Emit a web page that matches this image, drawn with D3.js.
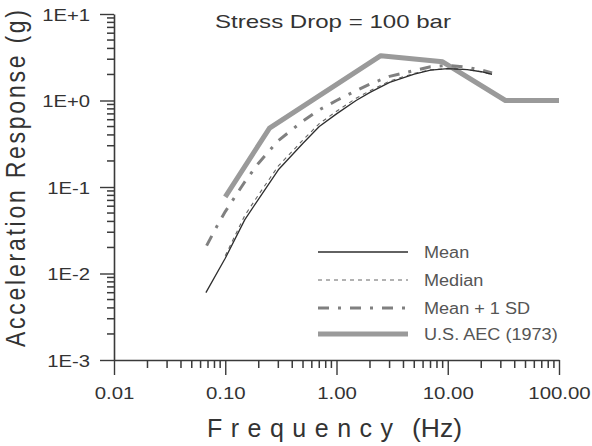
<!DOCTYPE html>
<html><head><meta charset="utf-8">
<script src="https://cdn.jsdelivr.net/npm/d3@7"></script>
<style>body{margin:0;background:#fff}svg{display:block}</style>
</head><body>
<svg id="c" width="592" height="446"></svg>
<script>
const xTickValues = [0.01, 0.1, 1, 10, 100];
const xTickLabels = ["0.01", "0.10", "1.00", "10.00", "100.00"];
const yTickValues = [1e-3, 1e-2, 1e-1, 1, 10];
const yTickLabels = ["1E-3", "1E-2", "1E-1", "1E+0", "1E+1"];
const yMinorValues = [0.002,0.003,0.004,0.005,0.006,0.007,0.008,0.009,0.02,0.03,0.04,0.05,0.06,0.07,0.08,0.09,0.2,0.3,0.4,0.5,0.6,0.7,0.8,0.9,2,3,4,5,6,7,8,9];
const xMinorValues = [0.02,0.03,0.04,0.05,0.06,0.07,0.08,0.09,0.2,0.3,0.4,0.5,0.6,0.7,0.8,0.9,2,3,4,5,6,7,8,9,20,30,40,50,60,70,80,90];

const meanFreq = [0.067, 0.1, 0.15, 0.2, 0.3, 0.5, 0.7, 1, 1.5, 2, 3, 5, 7, 10, 15, 20, 25];
const meanVals = [0.006, 0.015, 0.042, 0.073, 0.158, 0.32, 0.50, 0.70, 1.0, 1.24, 1.62, 2.02, 2.24, 2.34, 2.28, 2.15, 2.0];
const medianFreq = [0.1, 0.15, 0.2, 0.3, 0.5, 0.7, 1, 1.5, 2, 3, 5, 7, 10, 15, 20, 25];
const medianVals = [0.016, 0.047, 0.082, 0.175, 0.35, 0.54, 0.75, 1.06, 1.3, 1.68, 2.06, 2.26, 2.34, 2.28, 2.15, 2.0];
const sdFreq = [0.068, 0.085, 0.1, 0.15, 0.2, 0.3, 0.5, 0.7, 1, 1.5, 2, 3, 5, 7, 10, 15, 20, 25];
const sdVals = [0.021, 0.036, 0.052, 0.115, 0.19, 0.344, 0.58, 0.78, 1.0, 1.3, 1.55, 1.9, 2.22, 2.45, 2.55, 2.42, 2.25, 2.08];
const aecFreq = [0.1, 0.25, 2.5, 9, 33, 100];
const aecVals = [0.077, 0.48, 3.3, 2.8, 1.0, 1.0];

const seriesNames = ["Mean", "Median", "Mean + 1 SD", "U.S. AEC (1973)"];

const svg = d3.select("#c");
const font = "'Liberation Sans', Arial, sans-serif";
const axisColor = "#3a3a3a";

const x = d3.scaleLog().domain([0.01, 100]).range([114, 559]);
const y = d3.scaleLog().domain([1e-3, 10]).range([360, 14]);

function stretch(sel, k) {
  sel.each(function () {
    const w = this.getComputedTextLength();
    d3.select(this).attr("textLength", w * k).attr("lengthAdjust", "spacingAndGlyphs");
  });
}

// minor ticks as small filled rectangles
const x0 = x(0.01), y0 = y(1e-3);
svg.append("g").attr("class", "minor-y").selectAll("rect").data(yMinorValues).enter().append("rect")
  .attr("x", x0 - 7).attr("width", 7).attr("y", v => y(v) - 0.75).attr("height", 1.5)
  .attr("fill", axisColor);
svg.append("g").attr("class", "minor-x").selectAll("rect").data(xMinorValues).enter().append("rect")
  .attr("x", v => x(v) - 0.75).attr("width", 1.5).attr("y", y0).attr("height", 8)
  .attr("fill", axisColor);

const yAxis = d3.axisLeft(y).tickValues(yTickValues)
  .tickSizeInner(14).tickSizeOuter(0).tickPadding(10)
  .tickFormat((v, i) => yTickLabels[i]);
const xAxis = d3.axisBottom(x).tickValues(xTickValues)
  .tickSizeInner(15).tickSizeOuter(0).tickPadding(9)
  .tickFormat((v, i) => xTickLabels[i]);
const gy = svg.append("g").attr("transform", "translate(114,0)").call(yAxis);
const gx = svg.append("g").attr("transform", "translate(0,360)").call(xAxis);

[gy, gx].forEach(g => {
  g.selectAll(".domain").attr("stroke", axisColor).attr("stroke-width", 1.6);
  g.selectAll(".tick line").attr("stroke", axisColor).attr("stroke-width", 1.4);
  g.selectAll("text").attr("fill", "#333").style("font-family", font).style("font-size", "17px");
});
gy.selectAll(".tick text").attr("dy", "0.36em").call(stretch, 1.19);
gx.selectAll(".tick text").attr("dy", "0.9em").call(stretch, 1.2);

// lines
const line = d3.line().x(d => x(d[0])).y(d => y(d[1]));
const zip = (a, b) => a.map((v, i) => [v, b[i]]);

const styles = [
  { stroke: "#2e2e2e", width: 1.3, dash: null },
  { stroke: "#666", width: 1.1, dash: "4,4" },
  { stroke: "#808080", width: 3, dash: "11,9,3,9" },
  { stroke: "#9a9a9a", width: 5, dash: null }
];
const data = [zip(aecFreq, aecVals), zip(sdFreq, sdVals), zip(medianFreq, medianVals), zip(meanFreq, meanVals)];
const order = [3, 2, 1, 0];
data.forEach((d, i) => {
  const s = styles[order[i]];
  svg.append("path").datum(d).attr("d", line)
    .attr("fill", "none").attr("stroke", s.stroke).attr("stroke-width", s.width)
    .attr("stroke-dasharray", s.dash).attr("stroke-linejoin", "round");
});

// legend
const legY = [252, 280, 308, 334];
seriesNames.forEach((name, i) => {
  const s = styles[i];
  svg.append("line").attr("x1", 318).attr("x2", 408).attr("y1", legY[i]).attr("y2", legY[i])
    .attr("stroke", s.stroke).attr("stroke-width", s.width).attr("stroke-dasharray", s.dash);
  svg.append("text").attr("x", 424).attr("y", legY[i]).attr("dy", "0.36em")
    .attr("fill", "#555").style("font-family", font).style("font-size", "16px").text(name)
    .call(stretch, 1.13);
});

// title
svg.append("text").attr("x", 215).attr("y", 28).attr("fill", "#333")
  .style("font-family", font).style("font-size", "18.5px").text("Stress Drop = 100 bar")
  .call(stretch, 1.3);

// axis titles
svg.append("text").attr("x", 207).attr("y", 437).attr("fill", "#333")
  .attr("textLength", 186).attr("lengthAdjust", "spacing")
  .style("font-family", font).style("font-size", "25px").text("Frequency");
svg.append("text").attr("x", 412).attr("y", 437).attr("fill", "#333")
  .style("font-family", font).style("font-size", "25px").text("(Hz)").call(stretch, 1.06);
svg.append("text").attr("transform", "translate(25,347) scale(1.2,1) rotate(-90)").attr("fill", "#333")
  .attr("textLength", 337).attr("lengthAdjust", "spacing")
  .style("font-family", font).style("font-size", "23px").text("Acceleration Response  (g)");
</script>
</body></html>
